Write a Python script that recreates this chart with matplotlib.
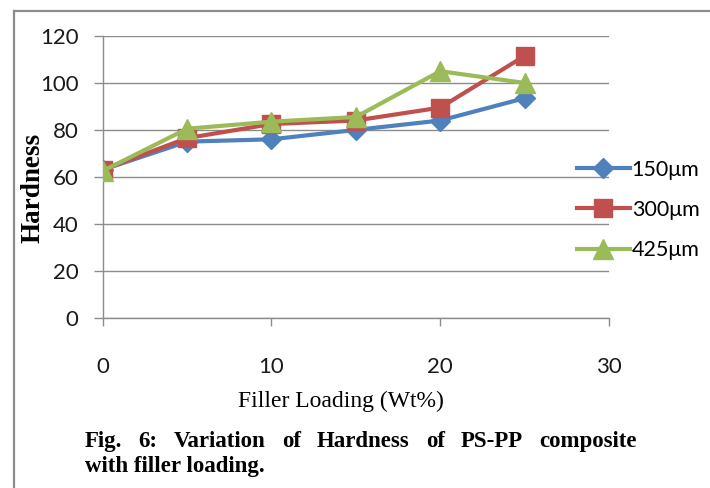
import matplotlib
matplotlib.use("Agg")
import matplotlib.pyplot as plt
from matplotlib.lines import Line2D

loading = [0, 5, 10, 15, 20, 25]
h150 = [63, 75, 76, 80, 84, 93.5]
h300 = [63, 76.5, 82.5, 84, 89.5, 111.5]
h425 = [62.5, 80.5, 83.5, 85.5, 105, 100]
names = ['150μm', '300μm', '425μm']
yticks = [0, 20, 40, 60, 80, 100, 120]
xticks = [0, 10, 20, 30]

W, H = 710, 488
fig = plt.figure(figsize=(W / 100, H / 100), dpi=100)

# plot area in pixels: left, right, top, bottom
L, R, T, B = 102.7, 609, 36, 317.7
ax = fig.add_axes([L / W, 1 - B / H, (R - L) / W, (B - T) / H])

tick_font = 'Lato'
ax.plot(loading, h150, color='#4F81BD', lw=3, marker='D', ms=10, label=names[0], zorder=3)
ax.plot(loading, h300, color='#C0504D', lw=3, marker='s', ms=13, label=names[1], zorder=4)
ax.plot(loading, h425, color='#9BBB59', lw=3, marker='^', ms=15, label=names[2], zorder=5)

ax.set_xlim(0, 30)
ax.set_ylim(0, 120)
ax.set_xticks(xticks)
ax.set_yticks(yticks)
ax.yaxis.grid(True, color='#8c8c8c', lw=1)
ax.set_axisbelow(True)
for s in ['top', 'right']:
    ax.spines[s].set_visible(False)
for s in ['left', 'bottom']:
    ax.spines[s].set_color('#8c8c8c')
    ax.spines[s].set_linewidth(1)
ax.tick_params(axis='y', direction='out', length=6.5, width=1, color='#8c8c8c', pad=11)
ax.tick_params(axis='x', direction='out', length=6, width=1, color='#8c8c8c', pad=22)
for lab in ax.get_xticklabels() + ax.get_yticklabels():
    lab.set_family(tick_font)
    lab.set_fontsize(16)
    lab.set_color('#1a1a1a')

leg = ax.legend(loc='center left', bbox_to_anchor=(566 / W, 1 - 210 / H),
                bbox_transform=fig.transFigure, frameon=False, borderpad=0,
                handlelength=2.45, handletextpad=0.1, labelspacing=0.95,
                prop={'family': tick_font, 'size': 15.5})

serif = 'Liberation Serif'
fig.text(33 / W, 1 - 188 / H, 'Hardness', rotation=90, ha='center', va='center',
         family=serif, weight='bold', fontsize=19.5)
fig.text(341 / W, 1 - 401 / H, 'Filler Loading (Wt%)', ha='center', va='center',
         family=serif, fontsize=17)

# caption, first line justified between x=85 and x=637
cap1 = 'Fig. 6: Variation of Hardness of PS-PP composite'.split()
cap2 = 'with filler loading.'
cap_size = 16.5
renderer = fig.canvas.get_renderer()
x0, x1 = 85, 637
texts = [fig.text(0, 0, w, family=serif, weight='bold', fontsize=cap_size) for w in cap1]
widths = [t.get_window_extent(renderer).width for t in texts]
gap = (x1 - x0 - sum(widths)) / (len(cap1) - 1)
x = x0
for t, w in zip(texts, widths):
    t.set_position((x / W, 1 - 446.7 / H))
    t.set_va('baseline')
    x += w + gap
fig.text(x0 / W, 1 - 471.7 / H, cap2, family=serif, weight='bold',
         fontsize=cap_size, va='baseline')

# page border (left and top edges)
fig.add_artist(Line2D([13.5 / W, 13.5 / W], [0, 1 - 11 / H], transform=fig.transFigure,
                      color='#8c8c8c', lw=1.6))
fig.add_artist(Line2D([13.5 / W, 1], [1 - 11 / H, 1 - 11 / H], transform=fig.transFigure,
                      color='#8c8c8c', lw=1.6))

fig.savefig('out.png', dpi=100)
